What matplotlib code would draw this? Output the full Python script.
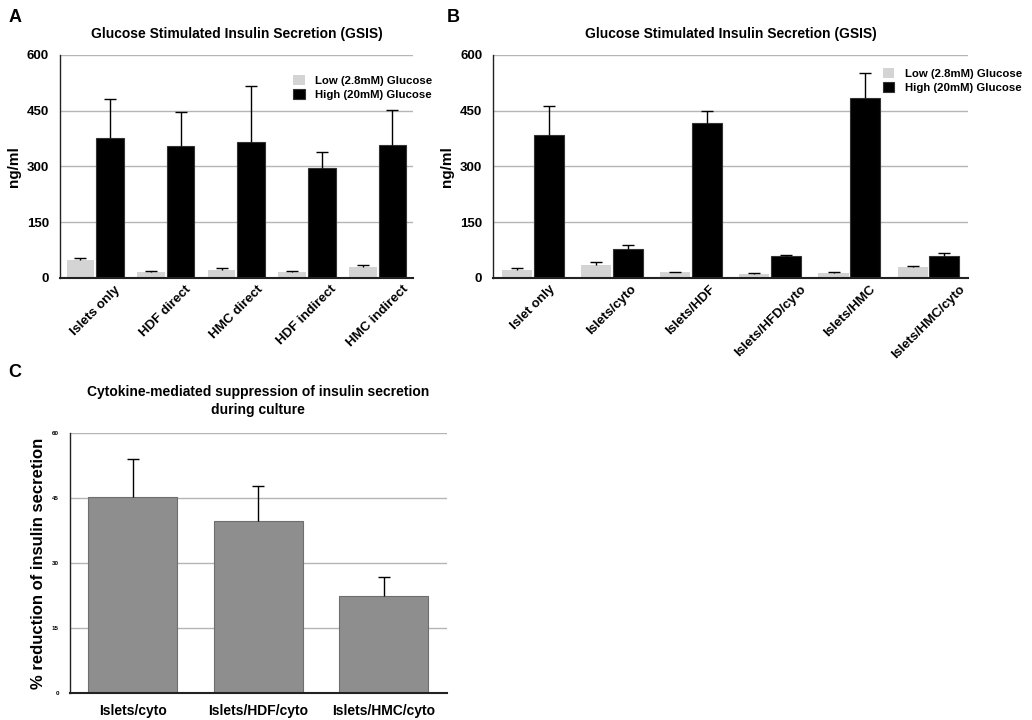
import matplotlib
matplotlib.use("Agg")
import matplotlib.pyplot as plt
import numpy as np

plt.rcParams['font.family'] = ['Liberation Sans', 'DejaVu Sans']
plt.rcParams['font.weight'] = 'bold'

# Panel A data
cats_a = ["Islets only", "HDF direct", "HMC direct", "HDF indirect", "HMC indirect"]
low_a = [47, 16, 20, 16, 29]
low_a_err = [7, 3, 7, 3, 5]
high_a = [376, 355, 366, 295, 357]
high_a_err = [105, 91, 150, 43, 94]

# Panel B data
cats_b = ["Islet only", "Islets/cyto", "Islets/HDF", "Islets/HFD/cyto", "Islets/HMC", "Islets/HMC/cyto"]
low_b = [20, 36, 15, 11, 12, 29]
low_b_err = [7, 7, 2, 1, 3, 2]
high_b = [384, 78, 416, 58, 485, 58]
high_b_err = [77, 11, 34, 3, 66, 8]

# Panel C data
cats_c = ["Islets/cyto", "Islets/HDF/cyto", "Islets/HMC/cyto"]
vals_c = [45.3, 39.8, 22.5]
err_c = [8.7, 7.9, 4.3]

yticks_ab = [0, 150, 300, 450, 600]
yticks_c = [0, 15, 30, 45, 60]

LOW_COLOR = "#d4d4d4"
HIGH_COLOR = "#000000"
C_COLOR = "#8e8e8e"
GRID = "#b5b5b5"
TITLE = "Glucose Stimulated Insulin Secretion (GSIS)"

fig = plt.figure(figsize=(10.32, 7.2), dpi=100)


def style(ax, yticks, fs):
    ax.set_ylim(yticks[0], yticks[-1])
    ax.set_yticks(yticks)
    ax.yaxis.grid(True, color=GRID, linewidth=1.0)
    ax.set_axisbelow(True)
    for s in ["top", "right"]:
        ax.spines[s].set_visible(False)
    ax.spines["left"].set_color("#222222")
    ax.spines["bottom"].set_color("#222222")
    ax.spines["left"].set_linewidth(1.0)
    ax.spines["bottom"].set_linewidth(1.5)
    ax.tick_params(axis="y", length=0, labelsize=fs, pad=8)
    ax.tick_params(axis="x", length=0)


def up_err(ax, x, vals, errs, cap=8):
    """Upper-only error bars with a cap at the top end only."""
    eb = ax.errorbar(x, vals, yerr=[np.zeros(len(vals)), errs], fmt="none",
                     ecolor="black", elinewidth=1.0, capsize=0, lolims=True, zorder=3)
    for cl in eb[1]:
        cl.set_marker("_")
        cl.set_markersize(cap)
        cl.set_markeredgewidth(1.0)
        cl.set_color("black")


def grouped(ax, cats, low, lowe, high, highe, width, off):
    x = np.arange(len(cats))
    ax.bar(x - off, low, width, color=LOW_COLOR, label="Low (2.8mM) Glucose")
    ax.bar(x + off, high, width, color=HIGH_COLOR, edgecolor="#333333", linewidth=0.8,
           label="High (20mM) Glucose")
    up_err(ax, x - off, low, lowe)
    up_err(ax, x + off, high, highe)
    ax.set_xlim(-0.5, len(cats) - 0.5)
    ax.set_xticks(x)
    ax.set_xticklabels(cats, rotation=45, ha="center", fontsize=9.5)
    ax.tick_params(axis="x", pad=4)
    ax.set_ylabel("ng/ml", fontsize=11, fontweight="bold")


leg_kw = dict(frameon=False, fontsize=8.2, handlelength=1.0, handleheight=1.0,
              handletextpad=0.9, labelspacing=0.25, borderaxespad=0, borderpad=0)

# Panel A
axA = fig.add_axes([0.0581, 0.614, 0.342, 0.310])
style(axA, yticks_ab, 9.5)
grouped(axA, cats_a, low_a, low_a_err, high_a, high_a_err, 0.39, 0.21)
axA.set_title(TITLE, fontsize=10, fontweight="bold", pad=12)
axA.legend(loc="upper right", bbox_to_anchor=(1.054, 0.91), **leg_kw)

# Panel B
axB = fig.add_axes([0.478, 0.614, 0.460, 0.310])
style(axB, yticks_ab, 9.5)
grouped(axB, cats_b, low_b, low_b_err, high_b, high_b_err, 0.38, 0.20)
axB.set_title(TITLE, fontsize=10, fontweight="bold", pad=12)
axB.legend(loc="upper left", bbox_to_anchor=(0.821, 0.94), **leg_kw)

# Panel C
axC = fig.add_axes([0.0678, 0.0375, 0.365, 0.361])
style(axC, yticks_c, 4.5)
xc = np.arange(len(cats_c))
axC.bar(xc, vals_c, 0.71, color=C_COLOR, edgecolor="#6e6e6e", linewidth=0.8)
up_err(axC, xc, vals_c, err_c, cap=9)
axC.set_xlim(-0.5, len(cats_c) - 0.5)
axC.set_xticks(xc)
axC.set_xticklabels(cats_c, fontsize=10)
axC.tick_params(axis="x", pad=8)
axC.set_ylabel("% reduction of insulin secretion", fontsize=12, fontweight="bold")
axC.set_title("Cytokine-mediated suppression of insulin secretion\nduring culture",
              fontsize=10, fontweight="bold", pad=14, linespacing=1.3)

# Panel letters
fig.text(0.008, 0.975, "A", fontsize=13, fontweight="bold", va="center")
fig.text(0.433, 0.975, "B", fontsize=13, fontweight="bold", va="center")
fig.text(0.008, 0.483, "C", fontsize=13, fontweight="bold", va="center")

fig.savefig("out.png", dpi=100)
